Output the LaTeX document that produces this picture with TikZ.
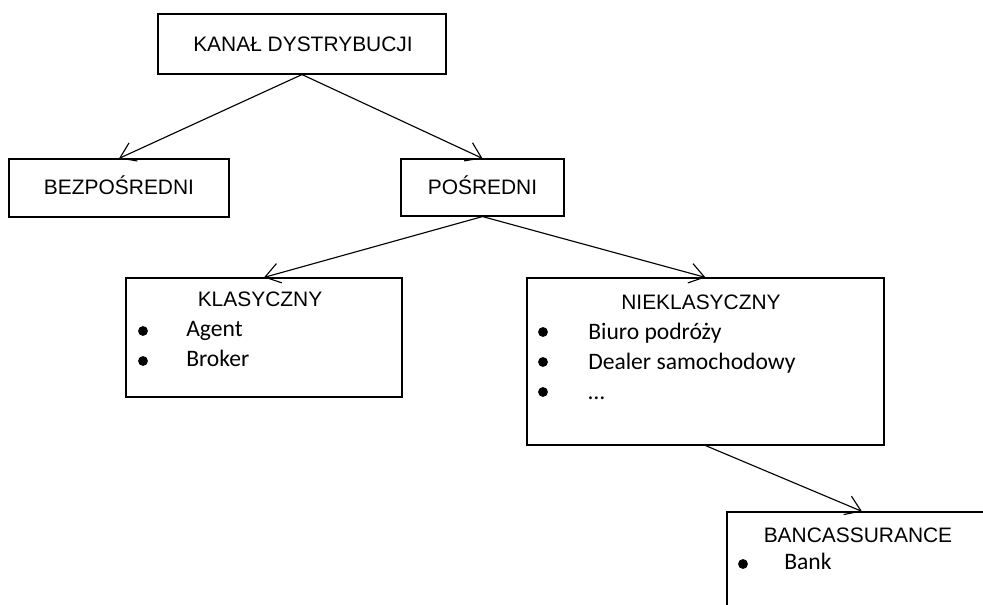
\documentclass[tikz,border=0pt]{standalone}
\usepackage{fontspec}
\usetikzlibrary{arrows.meta,fit}
\newfontfamily\headfont{Liberation Sans}
\newfontfamily\itemfont{Carlito}
\begin{document}
\begin{tikzpicture}[x=0.75pt,y=-0.75pt,
  box/.style={draw=black,line width=0.85pt,inner sep=0pt,rectangle},
  headtext/.style={font=\headfont\fontsize{15.7pt}{18pt}\selectfont,anchor=base,inner sep=0pt},
  itemtext/.style={font=\itemfont\fontsize{17.7pt}{20pt}\selectfont,anchor=base west,inner sep=0pt},
  dot/.style={circle,fill=black,draw=none,inner sep=0pt,minimum size=7.4pt},
  link/.style={draw=black,line width=0.85pt,-{Straight Barb[length=11pt,width=15pt,line width=0.85pt]}}]
\useasboundingbox (0,0) rectangle (983,605);
\clip (0,0) rectangle (983,605);

% boxes
\node[box,fit={(158,14) (446,74)}] (kanal) {};
\node[box,fit={(9,159) (229,217)}] (bez) {};
\node[box,fit={(401,159) (564,216)}] (pos) {};
\node[box,fit={(126,278) (402,397)}] (klas) {};
\node[box,fit={(527,278) (884,445)}] (niekl) {};
\node[box,fit={(727,512) (997,640)}] (banc) {};

% headings
\node[headtext] (tkanal) at (303,52) {KANAŁ DYSTRYBUCJI};
\node[headtext] (tbez) at (119,195) {BEZPOŚREDNI};
\node[headtext] (tpos) at (482.5,195) {POŚREDNI};
\node[headtext] (tklas) at (260,307) {KLASYCZNY};
\node[headtext] (tniekl) at (701,310) {NIEKLASYCZNY};
\node[headtext] (tbanc) at (858,543) {BANCASSURANCE};

% bulleted lists
\node[dot] (k1) at (143,331) {};
\node[itemtext] (k1t) at (186,337) {Agent};
\node[dot] (k2) at (143,361) {};
\node[itemtext] (k2t) at (186,367) {Broker};

\node[dot] (n1) at (543,332) {};
\node[itemtext] (n1t) at (588,340) {Biuro podróży};
\node[dot] (n2) at (543,362) {};
\node[itemtext] (n2t) at (588,370) {Dealer samochodowy};
\node[dot] (n3) at (543,392) {};
\node[itemtext] (n3t) at (588,400) {…};

\node[dot] (b1) at (743,564) {};
\node[itemtext] (b1t) at (784,570) {Bank};

% connectors
\draw[link] (kanal.south) -- (bez.north);
\draw[link] (kanal.south) -- (pos.north);
\draw[link] (pos.south) -- (klas.north);
\draw[link] (pos.south) -- (niekl.north);
\draw[link] (niekl.south) -- (banc.north);
\end{tikzpicture}
\end{document}
